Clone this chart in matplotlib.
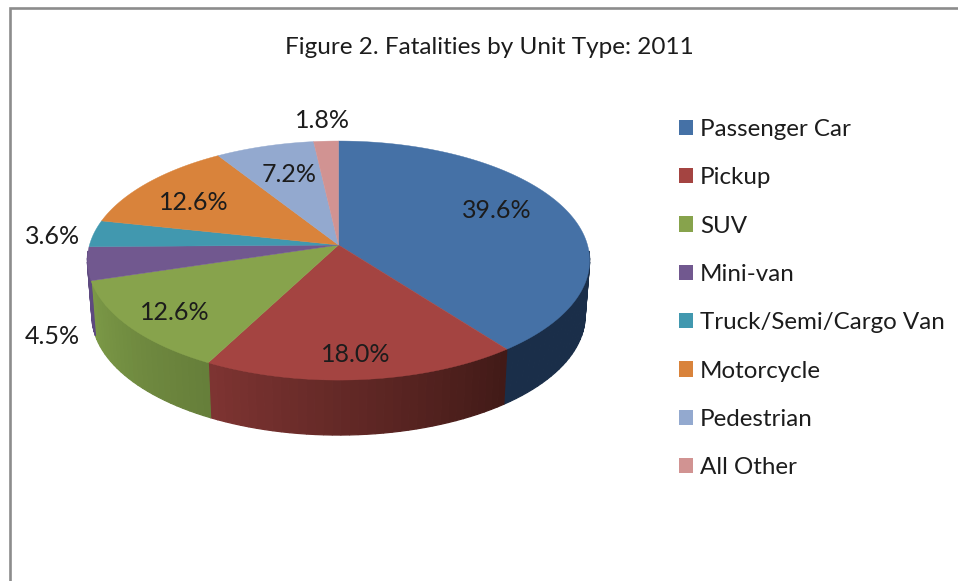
import numpy as np
import matplotlib
matplotlib.use("Agg")
import matplotlib.pyplot as plt
from matplotlib.colors import to_rgb
from matplotlib.patches import Patch

# Data
categories = ["Passenger Car", "Pickup", "SUV", "Mini-van", "Truck/Semi/Cargo Van",
              "Motorcycle", "Pedestrian", "All Other"]
shares = [39.6, 18.0, 12.6, 4.5, 3.6, 12.6, 7.2, 1.8]
title = "Figure 2. Fatalities by Unit Type: 2011"

# Style and layout
top_colors = ["#4571A6", "#A44441", "#87A34C", "#71588F", "#4198AF", "#D9833B", "#93A9CF", "#D19392"]
side_from = ["#1A2E49", "#411A17", "#667E3A", "#5E4A80", "#2B6575", "#8F5627", "#617089", "#8A6160"]
side_to = ["#1A2E49", "#7E3432", "#7C9A47", "#5E4A80", "#2B6575", "#8F5627", "#617089", "#8A6160"]
label_xy = [(496.5, 211), (356, 354), (175, 312), (52.5, 336), (52.5, 236), (194, 203), (289, 175), (322.5, 121)]
FONT = "Lato"
TXT = "#1c1c1c"
CX, CY, RX, RY, PERSP = 338.5, 245.0, 249.0, 117.5, 0.13
DEPTH, TAPER = 55.0, 0.982

plt.rcParams["font.family"] = FONT
fig = plt.figure(figsize=(9.58, 5.81), dpi=100)
ax = fig.add_axes([0, 0, 1, 1])
ax.set_xlim(0, 958)
ax.set_ylim(581, 0)
ax.axis("off")


def project(theta):
    """Clockwise angle from 12 o'clock -> perspective view of the pie's rim."""
    X, Y = np.sin(theta), np.cos(theta)
    w = 1 + PERSP * Y
    return CX + RX * X / w, CY - RY * Y / w


fractions = np.array(shares) / np.sum(shares)
edges = np.concatenate([[0], np.cumsum(fractions)]) * 2 * np.pi

# Side wall: only the part of the rim that faces the viewer, in coarse shading bands
for i in range(len(shares)):
    lo, hi = edges[i], edges[i + 1]
    a0 = max(lo, np.pi / 2 + 0.05) if lo < np.pi else lo
    a1 = min(hi, 3 * np.pi / 2 - 0.05)
    if a1 <= a0:
        continue
    n = max(2, int((a1 - a0) / 0.03))
    t = np.linspace(a0, a1, n + 1)
    x, y = project(t)
    xl = CX + TAPER * (x - CX)
    yl = y + DEPTH
    c0, c1 = np.array(to_rgb(side_from[i])), np.array(to_rgb(side_to[i]))
    for j in range(n):
        c = c0 + (c1 - c0) * (j + 0.5) / n
        ax.fill([x[j], x[j + 1], xl[j + 1], xl[j]], [y[j], y[j + 1], yl[j + 1], yl[j]],
                facecolor=c, edgecolor=c, linewidth=0.9, zorder=2)

# Top face
for i in range(len(shares)):
    t = np.linspace(edges[i], edges[i + 1], 200)
    x, y = project(t)
    ax.fill(np.r_[CX, x], np.r_[CY, y], facecolor=top_colors[i], edgecolor=top_colors[i],
            linewidth=0.3, zorder=3)

# Data labels
for v, (lx, ly) in zip(shares, label_xy):
    ax.text(lx, ly, f"{v:.1f}%", ha="center", va="center", fontsize=18, color=TXT, zorder=5)

ax.text(489, 47.5, title, ha="center", va="center", fontsize=17.5, color=TXT)

# Legend
handles = [Patch(facecolor=c, edgecolor="none") for c in top_colors]
ax.legend(handles, categories, loc="upper left", bbox_to_anchor=(679, 119),
          bbox_transform=ax.transData, frameon=False, fontsize=17.4, labelcolor=TXT,
          handlelength=0.6, handleheight=0.6, handletextpad=0.27, labelspacing=1.13,
          borderpad=0, borderaxespad=0)

# Chart frame, cropped by the screenshot
ax.plot([10, 10, 958], [581, 8, 8], color="#8C8C8C", linewidth=1.9, solid_joinstyle="miter", zorder=1)

fig.savefig("out.png", dpi=100, facecolor="white")
